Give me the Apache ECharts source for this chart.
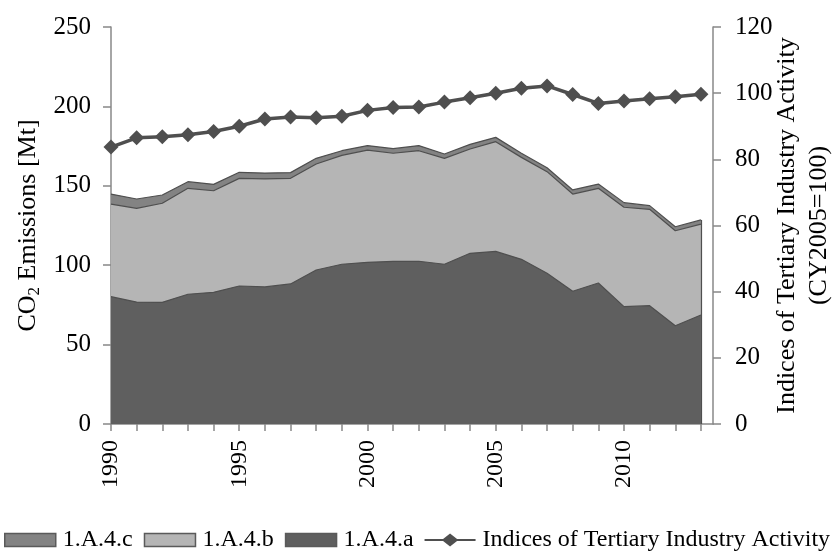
<!DOCTYPE html>
<html>
<head>
<meta charset="utf-8">
<title>CO2 Emissions and Tertiary Industry Activity</title>
<script src="https://cdn.jsdelivr.net/npm/echarts@6/dist/echarts.min.js"></script>
<style>
  html, body { margin: 0; padding: 0; background: #ffffff; }
  #chart { width: 833px; height: 552px; }
</style>
</head>
<body>
<div id="chart"></div>
<script>
// Fiscal years on the category axis
var years = [1990, 1991, 1992, 1993, 1994, 1995, 1996, 1997, 1998, 1999, 2000, 2001,
             2002, 2003, 2004, 2005, 2006, 2007, 2008, 2009, 2010, 2011, 2012, 2013];
var yearLabels = [1990, 1995, 2000, 2005, 2010];

// CO2 emissions by sub-sector [Mt]
var sector4a = [80.2, 76.8, 76.6, 81.7, 82.9, 86.9, 86.3, 88.2, 97.0, 100.6, 101.8, 102.4,
                102.5, 100.6, 107.5, 108.7, 103.7, 94.9, 83.6, 88.8, 73.9, 74.5, 61.9, 68.6];
var sector4b = [58.3, 59.0, 62.4, 66.7, 64.0, 67.8, 68.0, 66.5, 66.7, 68.6, 70.7, 68.1,
                69.6, 66.7, 65.7, 69.1, 64.2, 64.0, 61.2, 59.6, 62.6, 60.7, 59.8, 57.3];
var sector4c = [6.3, 5.9, 5.2, 4.2, 4.0, 3.8, 3.7, 3.6, 3.6, 2.9, 2.8, 2.9,
                3.2, 2.7, 2.9, 2.7, 2.6, 2.5, 2.6, 2.7, 2.9, 2.3, 2.5, 2.6];

// Indices of tertiary industry activity (CY2005 = 100)
var activityIndex = [83.7, 86.5, 86.8, 87.4, 88.4, 90.0, 92.2, 92.8, 92.6, 93.0, 94.8, 95.7,
                     95.8, 97.3, 98.6, 100.0, 101.5, 102.2, 99.6, 96.9, 97.6, 98.3, 98.9, 99.7];

var leftTicks = [0, 50, 100, 150, 200, 250];
var rightTicks = [0, 20, 40, 60, 80, 100, 120];

// cumulative totals for the stacked areas (value x-axis, so stacking is done here)
var cumAB = sector4a.map(function (v, i) { return +(v + sector4b[i]).toFixed(2); });
var cumABC = cumAB.map(function (v, i) { return +(v + sector4c[i]).toFixed(2); });

function pairs(values) {
  return years.map(function (y, i) { return [y, values[i]]; });
}

var FONT = '"Liberation Serif", "Times New Roman", serif';
var AXIS_GRAY = '#888888';
var EDGE = '#4f4f4f';
var LINE_DARK = '#4f4f4f';
var lastIdx = years.length - 1;

// legend glyph for the index series: thick line with a diamond in the middle (51 x 13 box)
var LINE_DIAMOND_ICON = 'path://M0,5.5 L18.5,5.5 L25.5,0 L32.5,5.5 L51,5.5 L51,7.5 L32.5,7.5 L25.5,13 L18.5,7.5 L0,7.5 Z';

var chart = echarts.init(document.getElementById('chart'), null, { renderer: 'canvas' });

function areaSeries(name, values, fill, z) {
  return {
    name: name,
    type: 'line',
    data: pairs(values),
    showSymbol: false,
    symbol: 'none',
    lineStyle: { color: EDGE, width: 1.2 },
    itemStyle: { color: fill },
    areaStyle: { color: fill, opacity: 1 },
    emphasis: { disabled: true },
    silent: true,
    z: z,
    animation: false
  };
}

var seriesC = areaSeries('1.A.4.c', cumABC, '#838383', 2);
var seriesB = areaSeries('1.A.4.b', cumAB, '#b5b5b5', 3);
var seriesA = areaSeries('1.A.4.a', sector4a, '#5f5f5f', 4);
// closing edge on the right side of the stacked areas
seriesB.markLine = {
  silent: true,
  symbol: 'none',
  label: { show: false },
  lineStyle: { color: EDGE, width: 1.2, type: 'solid' },
  data: [[{ coord: [years[lastIdx], 0] }, { coord: [years[lastIdx], cumABC[lastIdx]] }]],
  animation: false
};

var option = {
  backgroundColor: '#ffffff',
  animation: false,
  textStyle: { fontFamily: FONT, color: '#000000' },
  grid: { left: 111, right: 120, top: 27, bottom: 128, containLabel: false, outerBoundsMode: 'none' },
  legend: {
    left: 4,
    top: 528,
    padding: 0,
    itemWidth: 51,
    itemHeight: 13,
    itemGap: 11,
    selectedMode: false,
    textStyle: { fontFamily: FONT, fontSize: 24, color: '#000000', padding: [0, 0, 0, 2] },
    data: [
      { name: '1.A.4.c', icon: 'rect', itemStyle: { color: '#838383', borderColor: '#5a5a5a', borderWidth: 1.5 } },
      { name: '1.A.4.b', icon: 'rect', itemStyle: { color: '#b5b5b5', borderColor: '#5a5a5a', borderWidth: 1.5 } },
      { name: '1.A.4.a', icon: 'rect', itemStyle: { color: '#5f5f5f', borderColor: '#5a5a5a', borderWidth: 1.5 } },
      { name: 'Indices of Tertiary Industry Activity', icon: LINE_DIAMOND_ICON,
        itemStyle: { color: LINE_DARK, borderWidth: 0 } }
    ]
  },
  xAxis: {
    type: 'value',
    min: years[0],
    max: 2013.47,
    interval: 1,
    axisLine: { show: true, onZero: false, lineStyle: { color: AXIS_GRAY, width: 1.5 } },
    axisTick: { show: true, length: 7, lineStyle: { color: AXIS_GRAY, width: 1.5 }, customValues: years },
    axisLabel: {
      rotate: 90,
      margin: 16,
      fontSize: 24,
      fontFamily: FONT,
      color: '#000000',
      customValues: yearLabels,
      formatter: function (v) { return String(v); }
    },
    splitLine: { show: false }
  },
  yAxis: [
    {
      type: 'value',
      min: leftTicks[0],
      max: leftTicks[leftTicks.length - 1],
      interval: leftTicks[1] - leftTicks[0],
      position: 'left',
      name: '{n|CO}{s|2}{n| Emissions [Mt]}',
      nameLocation: 'middle',
      nameRotate: 90,
      nameGap: 68,
      nameMoveOverlap: false,
      nameTextStyle: {
        rich: {
          n: { fontFamily: FONT, fontSize: 26, color: '#000000', lineHeight: 30 },
          s: { fontFamily: FONT, fontSize: 17, color: '#000000', lineHeight: 14, verticalAlign: 'bottom' }
        }
      },
      axisLine: { show: true, onZero: false, lineStyle: { color: AXIS_GRAY, width: 1.5 } },
      axisTick: { show: true, inside: false, length: 8, lineStyle: { color: AXIS_GRAY, width: 1.5 } },
      axisLabel: { margin: 20, fontSize: 25, fontFamily: FONT, color: '#000000' },
      splitLine: { show: false }
    },
    {
      type: 'value',
      min: rightTicks[0],
      max: rightTicks[rightTicks.length - 1],
      interval: rightTicks[1] - rightTicks[0],
      position: 'right',
      name: 'Indices of Tertiary Industry Activity\n(CY2005=100)',
      nameLocation: 'middle',
      nameRotate: 90,
      nameGap: 58,
      nameMoveOverlap: false,
      nameTextStyle: { fontFamily: FONT, fontSize: 26, color: '#000000', lineHeight: 32, align: 'center' },
      axisLine: { show: true, onZero: false, lineStyle: { color: AXIS_GRAY, width: 1.5 } },
      axisTick: { show: true, inside: false, length: 8, lineStyle: { color: AXIS_GRAY, width: 1.5 } },
      axisLabel: { margin: 22, fontSize: 25, fontFamily: FONT, color: '#000000' },
      splitLine: { show: false }
    }
  ],
  series: [
    seriesC,
    seriesB,
    seriesA,
    {
      name: 'Indices of Tertiary Industry Activity',
      type: 'line',
      yAxisIndex: 1,
      data: pairs(activityIndex),
      symbol: 'diamond',
      symbolSize: [15, 15],
      showSymbol: true,
      lineStyle: { color: LINE_DARK, width: 3.5 },
      itemStyle: { color: LINE_DARK },
      emphasis: { disabled: true },
      silent: true,
      z: 6,
      animation: false
    }
  ]
};

chart.setOption(option);
</script>
</body>
</html>
